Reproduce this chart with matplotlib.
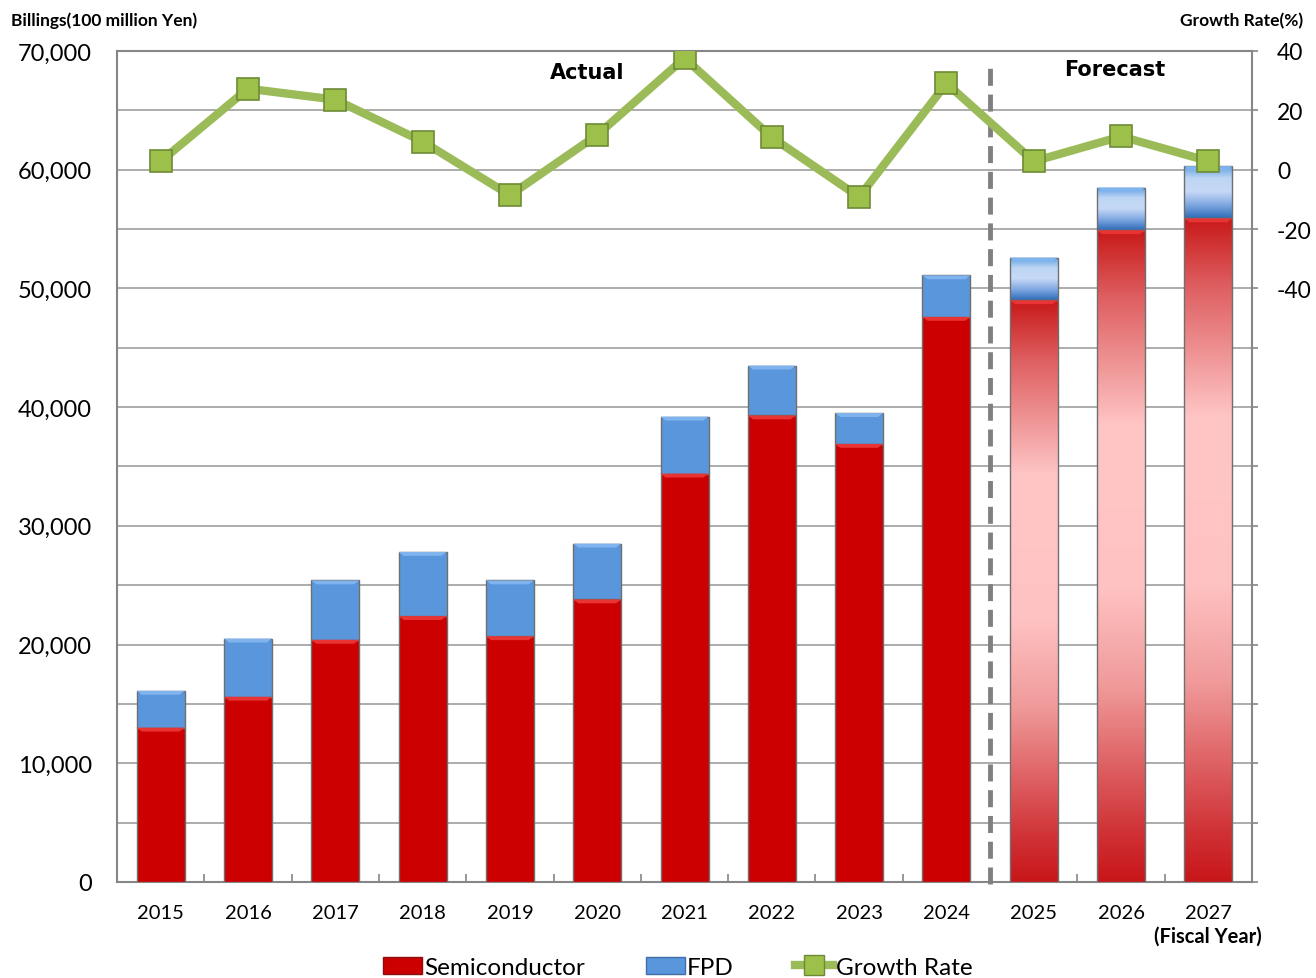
import numpy as np
import matplotlib.pyplot as plt
from matplotlib.colors import LinearSegmentedColormap
from matplotlib.patches import Polygon, Patch
from matplotlib.lines import Line2D

plt.rcParams['font.family'] = ['Lato', 'DejaVu Sans']

# Datos (100 millones de yenes) y tasa de crecimiento (%)
years = ['2015', '2016', '2017', '2018', '2019', '2020', '2021',
         '2022', '2023', '2024', '2025', '2026', '2027']
semiconductor = [13000, 15600, 20400, 22400, 20700, 23800, 34400,
                 39300, 36900, 47600, 49000, 54900, 55900]
fpd = [3100, 4900, 5000, 5400, 4700, 4700, 4800,
       4200, 2600, 3500, 3600, 3600, 4400]
growth = [2.8, 27.3, 23.6, 9.5, -8.6, 11.7, 37.6,
          10.9, -9.2, 29.1, 2.8, 11.2, 2.9]
n_actual = 10  # 2015-2024 reales, el resto pronostico

red = '#CC0000'
blue = '#5A96DC'
green = '#9BBB59'
w = 0.55

red_grad = LinearSegmentedColormap.from_list('rg', [
    (0.0, '#C8161A'), (0.08, '#D03438'), (0.3, '#F09A9A'),
    (0.45, '#FFC2C2'), (0.7, '#FFC6C6'), (0.9, '#DE5E60'), (1.0, '#C81A1A')])
blue_grad = LinearSegmentedColormap.from_list('bg', [
    (0.0, '#2F6DB8'), (0.25, '#80A8E2'), (0.5, '#C6D9F6'),
    (0.75, '#BDD6F4'), (1.0, '#5C9CE2')])

fig = plt.figure(figsize=(13.16, 9.79), dpi=100)
ax = fig.add_axes([0.0889, 0.0981, 0.8625, 0.8488])
ax2 = ax.twinx()


def bevel(x, top, color):
    # franja clara en la parte superior de cada segmento
    dx, dy = 0.06, 330
    pts = [(x - w / 2, top), (x + w / 2, top), (x + w / 2 - dx, top - dy), (x - w / 2 + dx, top - dy)]
    ax.add_patch(Polygon(pts, closed=True, facecolor=color, edgecolor='none', zorder=4))


def gradient_bar(x, bottom, height, cmap):
    bar = ax.bar(x, height, w, bottom=bottom, color='none', edgecolor='#6F6F6F', linewidth=1.0, zorder=3.5)[0]
    grad = np.linspace(0, 1, 256).reshape(-1, 1)
    im = ax.imshow(grad, cmap=cmap, aspect='auto', origin='lower',
                   extent=[x - w / 2, x + w / 2, bottom, bottom + height], zorder=3)
    im.set_clip_path(bar)


for i in range(len(years)):
    s, f = semiconductor[i], fpd[i]
    if i < n_actual:
        ax.bar(i, s, w, color=red, edgecolor='#6F6F6F', linewidth=1.0, zorder=3)
        ax.bar(i, f, w, bottom=s, color=blue, edgecolor='#6F6F6F', linewidth=1.0, zorder=3)
    else:
        gradient_bar(i, 0, s, red_grad)
        gradient_bar(i, s, f, blue_grad)
    bevel(i, s, '#E83434')
    bevel(i, s + f, '#80B4EE')

ax.set_xlim(-0.5, len(years) - 0.5)
ax.set_ylim(0, 70000)
ax.set_yticks(range(0, 70001, 10000))
ax.set_yticks(range(0, 70001, 5000), minor=True)
ax.set_yticklabels(['{:,}'.format(v) for v in range(0, 70001, 10000)], fontsize=17)
ax.grid(axis='y', which='both', color='#A6A6A6', linewidth=1.3, zorder=0)
ax.set_axisbelow(True)
ax.tick_params(axis='y', which='both', length=0, pad=18)

ax.set_xticks(range(len(years)))
ax.set_xticklabels(years, fontsize=14.5)
ax.set_xticks(np.arange(0.5, len(years) - 1, 1), minor=True)
ax.tick_params(axis='x', which='major', length=0, pad=16)
ax.tick_params(axis='x', which='minor', direction='in', length=6, width=1.2, color='#868686')

for sp in ax.spines.values():
    sp.set_color('#868686')
    sp.set_linewidth(1.5)
for sp in ax2.spines.values():
    sp.set_visible(False)

# separacion entre datos reales y pronostico
ax.axvline(n_actual - 0.5, ymin=-0.003, ymax=0.987, color='#808080', linewidth=3.5,
           dashes=(3.5, 1.8), zorder=5, clip_on=False)

ax.text(4.88, 68230, 'Actual', family='DejaVu Sans', fontweight='bold', fontsize=15,
        ha='center', va='center', zorder=6)
ax.text(10.93, 68480, 'Forecast', family='DejaVu Sans', fontweight='bold', fontsize=15,
        ha='center', va='center', zorder=6)

# linea de crecimiento en el eje derecho
ax2.plot(range(len(years)), growth, color=green, linewidth=6, marker='s', markersize=16,
         markerfacecolor='#9DC04A', markeredgecolor='#6E8A36', markeredgewidth=1.2, zorder=6)
ax2.set_ylim(-240, 40)
ax2.set_yticks(range(-240, 41, 20))
ax2.set_yticklabels([str(v) if v >= -40 else '' for v in range(-240, 41, 20)], fontsize=16.5)
ax2.tick_params(axis='y', length=4, width=1.2, color='#868686', pad=14)

fig.text(0.008, 0.979, 'Billings(100 million Yen)', fontsize=12.5, fontweight='bold', ha='left', va='center')
fig.text(0.990, 0.978, 'Growth Rate(%)', fontsize=12.5, fontweight='bold', ha='right', va='center')
fig.text(0.918, 0.043, '(Fiscal Year)', fontsize=14.5, fontweight='bold', ha='center', va='center')

handles = [
    Patch(facecolor=red, edgecolor='#8A1010'),
    Patch(facecolor=blue, edgecolor='#3F6FA8'),
    Line2D([0], [0], color=green, linewidth=6, marker='s', markersize=14,
           markerfacecolor='#9DC04A', markeredgecolor='#6E8A36'),
]
fig.legend(handles, ['Semiconductor', 'FPD', 'Growth Rate'], loc='center',
           bbox_to_anchor=(0.515, 0.011), ncol=3, frameon=False, fontsize=17.5,
           handlelength=1.6, handleheight=0.7, handletextpad=0.1, columnspacing=2.5)

fig.savefig('out.png', dpi=100)
